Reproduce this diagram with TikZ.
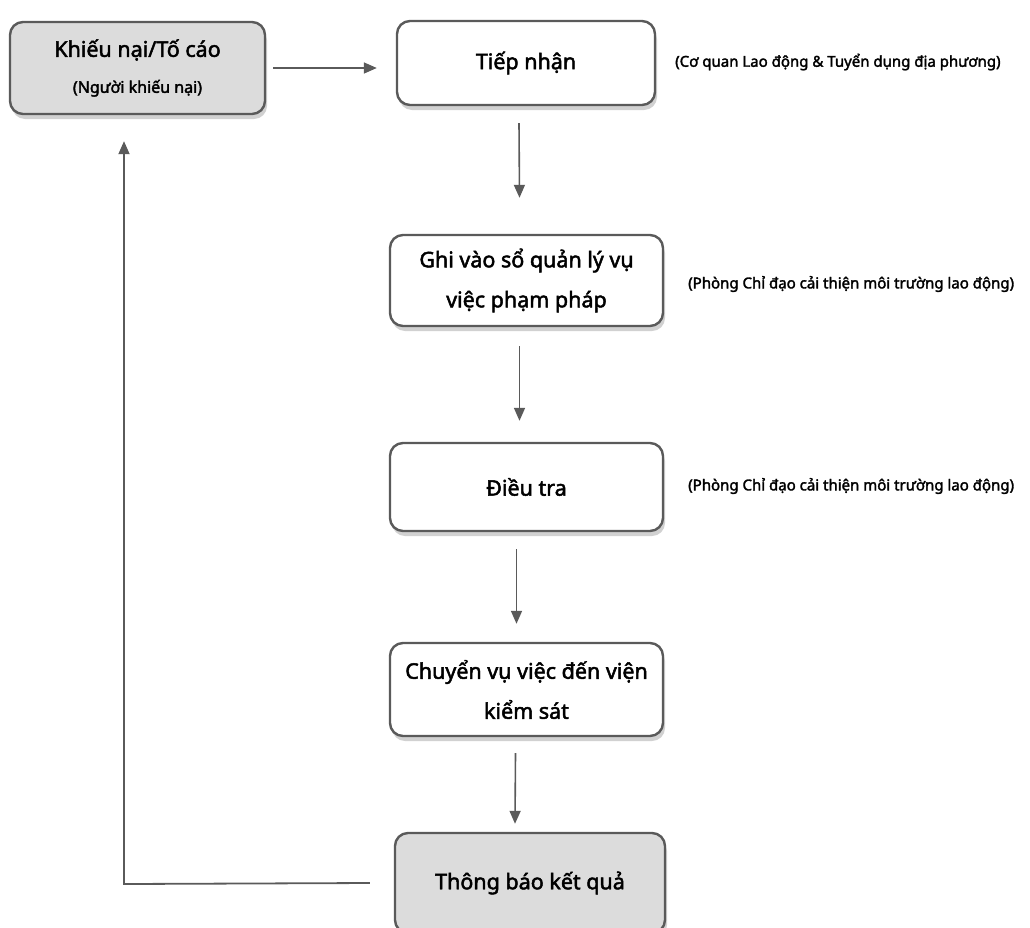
\documentclass[tikz,border=0pt]{standalone}
\usepackage{fontspec}
\setmainfont{Noto Sans}[BoldFont=Noto Sans, BoldFeatures={FakeBold=2.2}]
\usetikzlibrary{arrows.meta,shadows,positioning}
\definecolor{edge}{HTML}{5A5A5A}
\definecolor{boxgray}{HTML}{DCDCDC}
\tikzset{
  stepbox/.style={draw=edge, line width=2.4pt, rounded corners=13pt, fill=white,
    align=center, inner sep=0pt,
    drop shadow={shadow xshift=2pt, shadow yshift=-5pt, opacity=0.3, fill=black!60},
    font=\fontsize{21.5}{40}\selectfont\bfseries},
  graybox/.style={stepbox, fill=boxgray},
  arr/.style={draw=edge, line width=1.6pt, -{Triangle[length=13pt,width=11pt]}},
  note/.style={anchor=west, inner sep=0pt, font=\fontsize{15}{18}\selectfont\bfseries}
}
\begin{document}
\begin{tikzpicture}[x=1pt,y=-1pt]
\useasboundingbox (0,0) rectangle (1030,927);
% boxes (centers from reference)
\node[graybox, minimum width=255pt, minimum height=92pt] (A) at (137.5,68)
  {Khiếu nại/Tố cáo\\[-4pt]{\fontsize{16}{20}\selectfont\bfseries (Người khiếu nại)}};
\node[stepbox, minimum width=258pt, minimum height=84pt] (B) at (526,63) {Tiếp nhận};
\node[stepbox, minimum width=273pt, minimum height=91pt] (C) at (526.5,280.5)
  {Ghi vào sổ quản lý vụ\\việc phạm pháp};
\node[stepbox, minimum width=273pt, minimum height=88pt] (D) at (526.5,487) {Điều tra};
\node[stepbox, minimum width=273pt, minimum height=93pt] (E) at (526.5,689.5)
  {Chuyển vụ việc đến viện\\kiểm sát};
\node[graybox, minimum width=270pt, minimum height=100pt] (F) at (530,883) {Thông báo kết quả};
% side notes
\node[note] (nB) at (675,62) {(Cơ quan Lao động \& Tuyển dụng địa phương)};
\node[note] (nC) at (688,284) {(Phòng Chỉ đạo cải thiện môi trường lao động)};
\node[note] (nD) at (688,486) {(Phòng Chỉ đạo cải thiện môi trường lao động)};
% connectors
\draw[arr] ([xshift=7pt]A.east |- 0,68) -- ([xshift=-19pt]B.west |- 0,68);
\draw[arr] ([xshift=-7pt,yshift=-17pt]B.south) -- ([xshift=-7pt,yshift=36pt]C.north);
\draw[arr] ([xshift=-7pt,yshift=-19pt]C.south) -- ([xshift=-7pt,yshift=21pt]D.north);
\draw[arr] ([xshift=-10pt,yshift=-17pt]D.south) -- ([xshift=-10pt,yshift=18pt]E.north);
\draw[arr] ([xshift=-11pt,yshift=-16pt]E.south) -- ([xshift=-15pt,yshift=8pt]F.north);
\coordinate (corner) at (124,884);
\draw[arr, line width=1.8pt] ([xshift=-24pt]F.west) -- (corner) -- ([xshift=-13.5pt,yshift=-26pt]A.south);
\end{tikzpicture}
\end{document}
